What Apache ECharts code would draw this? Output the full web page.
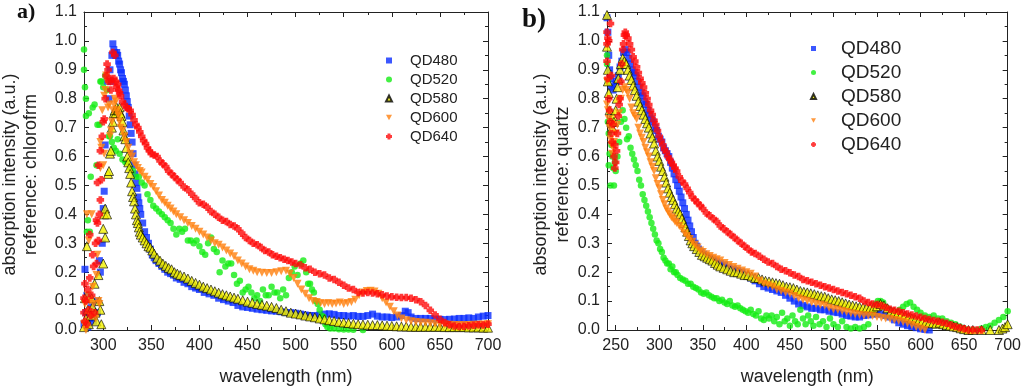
<!DOCTYPE html>
<html>
<head>
<meta charset="utf-8">
<script src="https://cdn.jsdelivr.net/npm/echarts@6/dist/echarts.min.js"></script>
<style>html,body{margin:0;padding:0;background:#fff}#c{width:1024px;height:391px}</style>
</head>
<body>
<div id="c"></div>
<script>
// ---------- tick labels / categories ----------
const seriesNames = ['QD480','QD520','QD580','QD600','QD640'];
const xMajorA = [300,350,400,450,500,550,600,650,700];
const xMinorA = [325,375,425,475,525,575,625,675];
const xMajorB = [250,300,350,400,450,500,550,600,650,700];
const xMinorB = [275,325,375,425,475,525,575,625,675];

// ---------- panel a) reference: chloroform  [wavelength nm, absorption] ----------
const a_QD480 = [[280,0.02],[281,0.21],[282,0.06],[283,0.12],[284,0.01],[286,0.04],[288,0.08],[290,0.03],[292,0.10],[294,0.06],[296,0.24],[297,0.20],[299,0.30],[300,0.42],[301,0.48],[302,0.64],[304,0.86],[306,0.80],[307,0.90],[308,0.86],[309,0.95],[310,0.99],[311,0.97],[312,0.96],[313,0.95],[314,0.96],[315,0.95],[316,0.93],[317,0.92],[318,0.90],[319,0.89],[320,0.87],[321,0.86],[322,0.85],[323,0.83],[324,0.81],[325,0.79],[326,0.77],[327,0.74],[328,0.71],[329,0.68],[330,0.65],[331,0.61],[332,0.57],[333,0.54],[334,0.51],[335,0.49],[336,0.46],[337,0.44],[338,0.42],[339,0.40],[341,0.37],[343,0.34],[345,0.32],[347,0.30],[349,0.28],[351,0.26],[353,0.25],[355,0.24],[358,0.23],[361,0.22],[364,0.21],[367,0.20],[370,0.195],[373,0.19],[376,0.18],[380,0.175],[384,0.165],[388,0.16],[392,0.15],[396,0.145],[400,0.14],[405,0.13],[410,0.125],[415,0.12],[420,0.11],[425,0.105],[430,0.10],[435,0.095],[440,0.085],[445,0.08],[450,0.078],[455,0.075],[460,0.072],[465,0.07],[470,0.068],[475,0.066],[480,0.065],[485,0.063],[490,0.06],[495,0.06],[500,0.058],[505,0.055],[510,0.052],[515,0.05],[520,0.05],[525,0.052],[530,0.055],[535,0.056],[540,0.054],[545,0.05],[550,0.05],[555,0.048],[560,0.05],[565,0.047],[570,0.047],[575,0.05],[580,0.055],[585,0.048],[590,0.045],[595,0.045],[600,0.043],[605,0.045],[610,0.05],[614,0.065],[617,0.06],[620,0.045],[625,0.04],[630,0.04],[635,0.04],[640,0.04],[645,0.038],[650,0.037],[655,0.036],[660,0.037],[665,0.038],[670,0.04],[675,0.04],[680,0.042],[685,0.04],[690,0.045],[695,0.048],[700,0.05]];

const a_QD520 = [[280,0.97],[280,0.90],[281,0.84],[282,0.80],[282,0.74],[283,0.34],[284,0.38],[285,0.75],[286,0.34],[287,0.53],[289,0.77],[291,0.78],[293,0.57],[294,0.71],[296,0.71],[297,0.86],[298,0.86],[300,0.84],[302,0.88],[304,0.83],[306,0.67],[307,0.67],[309,0.65],[311,0.63],[313,0.62],[315,0.66],[317,0.61],[320,0.59],[323,0.58],[325,0.58],[328,0.56],[331,0.55],[334,0.53],[337,0.53],[340,0.51],[343,0.50],[346,0.47],[349,0.45],[352,0.43],[355,0.42],[358,0.41],[361,0.40],[364,0.39],[367,0.38],[370,0.37],[373,0.35],[376,0.33],[379,0.35],[382,0.34],[385,0.35],[388,0.31],[391,0.31],[394,0.30],[397,0.31],[400,0.29],[403,0.27],[406,0.26],[409,0.30],[412,0.32],[415,0.28],[418,0.27],[421,0.20],[424,0.24],[427,0.22],[430,0.23],[433,0.23],[436,0.19],[439,0.16],[442,0.17],[445,0.13],[448,0.14],[451,0.15],[454,0.13],[457,0.11],[460,0.12],[463,0.10],[466,0.14],[469,0.12],[472,0.12],[475,0.15],[478,0.13],[481,0.13],[484,0.11],[487,0.14],[490,0.12],[493,0.18],[496,0.20],[499,0.22],[502,0.19],[505,0.23],[508,0.24],[511,0.20],[513,0.16],[515,0.16],[517,0.14],[519,0.13],[521,0.10],[523,0.09],[525,0.07],[527,0.05],[529,0.045],[531,0.02],[533,0.01],[536,0.005],[540,0.005],[545,0.003],[550,0.002],[555,0.002],[560,0.001],[570,0.0]];

const a_QD580 = [[280,0.01],[281,0.11],[282,0.04],[283,0.29],[284,0.07],[285,0.02],[287,0.05],[288,0.11],[289,0.08],[291,0.16],[292,0.06],[293,0.03],[295,0.19],[296,0.10],[297,0.07],[298,0.02],[300,0.23],[300,0.35],[301,0.40],[302,0.32],[302,0.42],[304,0.40],[305,0.54],[306,0.55],[307,0.61],[308,0.62],[309,0.70],[310,0.72],[311,0.75],[312,0.76],[313,0.75],[314,0.77],[315,0.76],[316,0.76],[317,0.77],[318,0.75],[319,0.74],[320,0.72],[321,0.69],[322,0.67],[323,0.66],[324,0.63],[325,0.60],[326,0.58],[327,0.56],[328,0.54],[329,0.51],[330,0.48],[331,0.46],[332,0.445],[333,0.42],[334,0.40],[335,0.38],[336,0.37],[337,0.355],[338,0.34],[339,0.33],[341,0.32],[343,0.31],[345,0.30],[347,0.29],[349,0.285],[351,0.275],[353,0.264],[356,0.25],[359,0.24],[362,0.23],[365,0.222],[368,0.215],[371,0.21],[374,0.20],[377,0.195],[380,0.19],[384,0.185],[388,0.178],[392,0.17],[396,0.163],[400,0.157],[404,0.15],[408,0.145],[412,0.14],[416,0.134],[420,0.129],[424,0.124],[428,0.12],[432,0.116],[436,0.112],[440,0.108],[445,0.103],[450,0.098],[455,0.094],[460,0.09],[465,0.087],[470,0.084],[475,0.08],[480,0.076],[485,0.07],[490,0.065],[495,0.06],[500,0.057],[505,0.054],[510,0.05],[515,0.047],[520,0.044],[525,0.04],[530,0.037],[535,0.034],[540,0.031],[545,0.028],[550,0.026],[555,0.024],[560,0.022],[565,0.02],[570,0.019],[575,0.018],[580,0.017],[585,0.017],[590,0.016],[595,0.015],[600,0.014],[605,0.013],[610,0.012],[615,0.012],[620,0.011],[625,0.011],[630,0.011],[635,0.011],[640,0.011],[645,0.011],[650,0.011],[655,0.01],[660,0.01],[665,0.01],[670,0.01],[675,0.01],[680,0.009],[685,0.009],[690,0.009],[695,0.008],[700,0.008]];

const a_QD600 = [[280,0.02],[281,0.09],[282,0.0],[283,0.40],[284,0.12],[285,0.31],[286,0.10],[287,0.05],[288,0.40],[289,0.15],[290,0.09],[292,0.04],[293,0.19],[294,0.26],[295,0.10],[296,0.09],[297,0.56],[297,0.65],[298,0.63],[299,0.76],[300,0.57],[301,0.61],[301,0.81],[302,0.83],[303,0.88],[304,0.86],[305,0.77],[306,0.78],[307,0.67],[308,0.69],[309,0.72],[310,0.76],[311,0.78],[312,0.80],[313,0.79],[314,0.76],[315,0.75],[316,0.74],[317,0.72],[318,0.70],[320,0.69],[322,0.67],[324,0.65],[326,0.63],[328,0.61],[330,0.60],[332,0.58],[334,0.57],[336,0.56],[338,0.55],[340,0.545],[343,0.53],[346,0.52],[349,0.505],[352,0.495],[355,0.48],[358,0.465],[361,0.45],[364,0.44],[367,0.43],[370,0.42],[373,0.41],[376,0.40],[380,0.39],[384,0.38],[388,0.37],[392,0.36],[396,0.35],[400,0.34],[404,0.33],[408,0.32],[412,0.31],[416,0.30],[420,0.295],[424,0.285],[428,0.275],[432,0.265],[436,0.255],[440,0.24],[444,0.23],[448,0.22],[452,0.21],[456,0.205],[460,0.20],[465,0.198],[470,0.197],[475,0.197],[480,0.20],[485,0.203],[490,0.205],[494,0.195],[498,0.18],[502,0.16],[506,0.14],[510,0.125],[514,0.11],[518,0.10],[522,0.097],[526,0.093],[530,0.09],[534,0.093],[538,0.09],[542,0.092],[546,0.095],[550,0.09],[554,0.093],[558,0.097],[562,0.105],[566,0.12],[570,0.13],[574,0.135],[578,0.136],[582,0.133],[586,0.125],[590,0.11],[594,0.095],[598,0.08],[602,0.065],[606,0.05],[610,0.04],[615,0.034],[620,0.03],[625,0.028],[630,0.026],[635,0.025],[640,0.023],[645,0.022],[650,0.02],[655,0.019],[660,0.018],[665,0.017],[670,0.017],[675,0.017],[680,0.017],[685,0.018],[690,0.018],[695,0.019],[700,0.02]];

const a_QD640 = [[280,0.06],[280,0.11],[281,0.03],[281,0.16],[282,0.10],[283,0.02],[284,0.14],[285,0.07],[286,0.18],[286,0.33],[287,0.05],[288,0.12],[289,0.26],[290,0.22],[291,0.06],[292,0.30],[293,0.38],[293,0.23],[294,0.37],[294,0.51],[295,0.31],[295,0.57],[296,0.40],[297,0.45],[297,0.62],[298,0.52],[299,0.67],[300,0.72],[301,0.73],[302,0.80],[303,0.88],[304,0.92],[305,0.90],[306,0.86],[307,0.87],[308,0.83],[309,0.86],[310,0.96],[311,0.87],[312,0.95],[313,0.86],[314,0.84],[315,0.85],[316,0.83],[317,0.82],[318,0.81],[320,0.79],[322,0.78],[324,0.77],[326,0.765],[328,0.76],[330,0.745],[332,0.727],[334,0.71],[336,0.70],[338,0.685],[340,0.67],[342,0.655],[344,0.645],[346,0.63],[348,0.62],[350,0.61],[353,0.605],[356,0.60],[359,0.585],[362,0.575],[365,0.565],[368,0.55],[371,0.54],[374,0.53],[377,0.52],[380,0.51],[384,0.495],[388,0.485],[392,0.47],[396,0.455],[400,0.44],[404,0.435],[408,0.425],[412,0.41],[416,0.40],[420,0.39],[424,0.38],[428,0.375],[432,0.365],[436,0.36],[440,0.35],[444,0.335],[448,0.32],[452,0.31],[456,0.30],[460,0.295],[464,0.285],[468,0.275],[472,0.27],[476,0.26],[480,0.255],[484,0.25],[488,0.245],[492,0.24],[496,0.235],[500,0.23],[505,0.225],[510,0.215],[515,0.21],[520,0.20],[525,0.195],[530,0.19],[535,0.18],[540,0.175],[545,0.165],[550,0.155],[555,0.145],[560,0.14],[565,0.13],[570,0.128],[575,0.13],[580,0.128],[585,0.125],[590,0.122],[595,0.118],[600,0.115],[605,0.113],[610,0.112],[615,0.112],[620,0.11],[625,0.105],[630,0.098],[635,0.085],[640,0.068],[645,0.052],[650,0.037],[655,0.026],[660,0.018],[665,0.014],[670,0.012],[675,0.013],[680,0.015],[685,0.016],[690,0.018],[695,0.017],[700,0.02]];

// ---------- panel b) reference: quartz ----------
const b_QD480 = [[240,1.08],[241,1.03],[242,0.95],[243,0.90],[244,0.87],[245,0.84],[247,0.83],[249,0.85],[251,0.86],[253,0.88],[255,0.91],[257,0.93],[259,0.96],[261,0.97],[263,0.96],[265,0.94],[267,0.92],[269,0.90],[271,0.89],[273,0.88],[275,0.86],[277,0.84],[279,0.82],[281,0.81],[283,0.79],[285,0.78],[287,0.76],[289,0.745],[291,0.73],[293,0.72],[295,0.70],[297,0.69],[299,0.67],[301,0.66],[303,0.65],[305,0.63],[307,0.62],[309,0.61],[311,0.60],[313,0.58],[315,0.56],[317,0.54],[319,0.52],[321,0.50],[323,0.48],[325,0.46],[327,0.44],[329,0.42],[331,0.40],[333,0.38],[335,0.36],[337,0.34],[339,0.32],[341,0.30],[343,0.29],[345,0.28],[348,0.27],[351,0.262],[354,0.255],[358,0.248],[362,0.242],[366,0.236],[370,0.23],[375,0.225],[380,0.215],[385,0.21],[390,0.205],[395,0.20],[400,0.19],[405,0.18],[410,0.17],[415,0.16],[420,0.15],[425,0.145],[430,0.14],[435,0.135],[440,0.13],[445,0.12],[450,0.11],[455,0.10],[460,0.09],[465,0.085],[470,0.08],[475,0.075],[480,0.075],[485,0.07],[490,0.07],[495,0.065],[500,0.062],[505,0.06],[510,0.055],[515,0.05],[520,0.048],[525,0.045],[530,0.045],[535,0.05],[540,0.052],[545,0.055],[550,0.056],[555,0.055],[560,0.05],[565,0.045],[570,0.035],[575,0.025],[580,0.02],[585,0.015],[590,0.012],[595,0.008],[600,0.004],[605,0.002],[610,0.0]];

const b_QD520 = [[240,0.95],[240,0.92],[241,0.86],[241,0.72],[242,0.68],[242,0.57],[243,0.61],[244,0.50],[245,0.64],[246,0.60],[247,0.56],[248,0.50],[249,0.58],[250,0.55],[252,0.60],[254,0.65],[256,0.72],[258,0.76],[260,0.73],[262,0.70],[263,0.66],[265,0.67],[267,0.63],[269,0.61],[271,0.59],[273,0.57],[275,0.55],[277,0.52],[279,0.50],[281,0.47],[283,0.45],[285,0.43],[287,0.41],[289,0.39],[291,0.37],[293,0.35],[295,0.33],[297,0.31],[299,0.30],[301,0.28],[303,0.27],[305,0.25],[307,0.24],[309,0.23],[311,0.23],[313,0.21],[315,0.22],[317,0.20],[319,0.20],[321,0.19],[324,0.18],[327,0.175],[330,0.17],[333,0.16],[336,0.16],[339,0.15],[342,0.145],[345,0.14],[348,0.13],[351,0.125],[354,0.13],[357,0.12],[360,0.115],[363,0.11],[366,0.11],[369,0.10],[372,0.105],[375,0.095],[378,0.09],[381,0.10],[384,0.085],[387,0.08],[390,0.085],[393,0.075],[396,0.07],[399,0.065],[402,0.06],[405,0.07],[408,0.055],[411,0.05],[414,0.065],[417,0.04],[420,0.035],[423,0.05],[426,0.04],[429,0.05],[432,0.03],[435,0.045],[438,0.02],[441,0.06],[444,0.03],[447,0.04],[450,0.015],[453,0.05],[456,0.03],[459,0.02],[462,0.07],[465,0.04],[468,0.02],[471,0.05],[474,0.03],[477,0.015],[480,0.045],[484,0.02],[488,0.03],[492,0.01],[496,0.04],[500,0.02],[505,0.01],[510,0.03],[515,0.01],[520,0.005],[525,0.01],[530,0.005],[535,0.01],[540,0.02],[545,0.06],[548,0.09],[551,0.10],[554,0.10],[557,0.095],[560,0.08],[564,0.07],[568,0.065],[572,0.06],[576,0.07],[580,0.08],[584,0.09],[588,0.095],[592,0.08],[596,0.07],[600,0.06],[605,0.05],[610,0.045],[615,0.05],[620,0.04],[625,0.04],[630,0.03],[635,0.025],[640,0.02],[645,0.012],[650,0.005],[655,0.0],[660,0.0],[665,0.0],[670,0.005],[675,0.01],[680,0.015],[685,0.025],[690,0.035],[695,0.045],[700,0.065]];

const b_QD580 = [[240,1.09],[240,0.98],[241,0.90],[241,0.86],[242,0.82],[243,0.76],[244,0.73],[245,0.72],[246,0.70],[247,0.74],[248,0.72],[250,0.76],[251,0.80],[252,0.84],[253,0.87],[255,0.90],[256,0.92],[258,0.94],[260,0.93],[262,0.92],[264,0.90],[266,0.88],[268,0.865],[270,0.845],[272,0.83],[274,0.81],[276,0.79],[278,0.775],[280,0.76],[282,0.745],[284,0.73],[286,0.715],[288,0.70],[290,0.68],[292,0.665],[294,0.645],[296,0.62],[298,0.60],[300,0.585],[302,0.565],[304,0.55],[306,0.53],[308,0.51],[310,0.49],[312,0.475],[314,0.46],[316,0.45],[318,0.435],[320,0.42],[322,0.41],[324,0.40],[326,0.385],[328,0.37],[330,0.355],[332,0.34],[334,0.325],[336,0.31],[338,0.30],[340,0.29],[343,0.28],[346,0.27],[349,0.26],[352,0.255],[355,0.25],[358,0.245],[361,0.24],[364,0.232],[367,0.226],[370,0.22],[374,0.215],[378,0.21],[382,0.205],[386,0.20],[390,0.20],[394,0.195],[398,0.19],[402,0.19],[406,0.185],[410,0.18],[414,0.18],[418,0.175],[422,0.17],[426,0.168],[430,0.165],[434,0.162],[438,0.16],[442,0.155],[446,0.15],[450,0.148],[454,0.145],[458,0.14],[462,0.135],[466,0.132],[470,0.13],[474,0.127],[478,0.124],[482,0.12],[486,0.117],[490,0.115],[494,0.11],[498,0.106],[502,0.103],[506,0.10],[510,0.096],[514,0.092],[518,0.088],[522,0.085],[526,0.082],[530,0.08],[534,0.078],[538,0.077],[542,0.076],[546,0.077],[550,0.082],[554,0.09],[558,0.085],[562,0.075],[566,0.065],[570,0.062],[574,0.058],[578,0.055],[582,0.05],[586,0.045],[590,0.04],[594,0.036],[598,0.032],[602,0.03],[606,0.027],[610,0.025],[614,0.023],[618,0.022],[622,0.025],[626,0.02],[630,0.017],[634,0.015],[638,0.012],[642,0.01],[646,0.006],[650,0.003],[655,0.0],[660,0.0],[670,0.0],[680,0.0],[690,0.0],[694,0.005],[697,0.01],[700,0.02]];

const b_QD600 = [[240,0.86],[240,0.78],[241,0.76],[242,0.73],[243,0.70],[244,0.66],[245,0.64],[246,0.61],[247,0.63],[248,0.65],[250,0.68],[252,0.71],[254,0.75],[256,0.80],[258,0.83],[260,0.84],[262,0.83],[264,0.82],[266,0.80],[268,0.77],[270,0.75],[272,0.74],[274,0.73],[276,0.70],[278,0.68],[280,0.665],[282,0.65],[284,0.63],[286,0.615],[288,0.60],[290,0.58],[292,0.565],[294,0.55],[296,0.525],[298,0.505],[300,0.49],[302,0.47],[304,0.45],[306,0.435],[308,0.42],[310,0.41],[312,0.40],[314,0.39],[316,0.385],[318,0.375],[320,0.37],[323,0.36],[326,0.35],[329,0.335],[332,0.325],[335,0.315],[338,0.305],[341,0.295],[344,0.285],[347,0.275],[350,0.27],[354,0.262],[358,0.256],[362,0.25],[366,0.245],[370,0.24],[375,0.232],[380,0.225],[385,0.218],[390,0.212],[395,0.206],[400,0.20],[405,0.195],[410,0.185],[415,0.17],[420,0.16],[425,0.155],[430,0.15],[435,0.14],[440,0.135],[445,0.13],[450,0.125],[455,0.118],[460,0.11],[465,0.105],[470,0.10],[475,0.095],[480,0.09],[485,0.087],[490,0.085],[495,0.077],[500,0.072],[505,0.07],[510,0.066],[515,0.062],[520,0.058],[525,0.055],[530,0.053],[535,0.05],[540,0.05],[545,0.048],[550,0.045],[555,0.042],[560,0.04],[565,0.038],[570,0.035],[575,0.032],[580,0.028],[585,0.023],[590,0.017],[595,0.01],[600,0.005],[605,0.0]];

const b_QD640 = [[240,1.03],[240,0.99],[240,0.93],[241,1.01],[241,0.87],[242,1.00],[242,0.80],[243,0.76],[244,1.06],[244,0.72],[245,0.68],[245,0.88],[246,0.65],[247,0.71],[248,0.60],[249,0.64],[249,0.56],[250,0.58],[251,0.62],[252,0.68],[253,0.74],[254,0.78],[255,0.80],[256,0.86],[257,0.92],[258,0.97],[259,0.99],[260,1.02],[261,1.03],[262,1.02],[264,1.01],[266,0.99],[268,0.97],[270,0.945],[272,0.93],[274,0.91],[276,0.89],[278,0.87],[280,0.855],[282,0.84],[284,0.82],[286,0.80],[288,0.78],[290,0.76],[292,0.745],[294,0.725],[296,0.71],[298,0.69],[300,0.67],[302,0.655],[304,0.64],[306,0.625],[308,0.615],[310,0.60],[312,0.59],[314,0.58],[316,0.57],[318,0.56],[320,0.55],[323,0.53],[326,0.515],[329,0.505],[332,0.49],[335,0.475],[338,0.46],[341,0.45],[344,0.44],[347,0.43],[350,0.42],[354,0.405],[358,0.395],[362,0.385],[366,0.375],[370,0.36],[374,0.35],[378,0.34],[382,0.33],[386,0.32],[390,0.31],[394,0.30],[398,0.29],[402,0.28],[406,0.27],[410,0.265],[415,0.255],[420,0.245],[425,0.235],[430,0.23],[435,0.22],[440,0.21],[445,0.205],[450,0.198],[455,0.19],[460,0.185],[465,0.175],[470,0.17],[475,0.165],[480,0.16],[485,0.155],[490,0.15],[495,0.145],[500,0.14],[505,0.135],[510,0.13],[515,0.125],[520,0.12],[525,0.115],[530,0.11],[535,0.10],[540,0.095],[545,0.09],[550,0.088],[555,0.085],[560,0.078],[565,0.072],[570,0.068],[575,0.065],[580,0.06],[585,0.055],[590,0.052],[595,0.048],[600,0.044],[605,0.04],[610,0.036],[615,0.033],[620,0.03],[625,0.027],[630,0.023],[635,0.017],[640,0.012],[645,0.008],[650,0.004],[655,0.0],[660,0.0],[665,0.0],[670,0.0]];

// ---------- styling ----------
const INK = '#222';
const FONT = '"Liberation Sans", Arial, Helvetica, sans-serif';
const styles = {
  QD480: {symbol:'rect', symbolSize:7, itemStyle:{color:'#0a2dff'}},
  QD520: {symbol:'circle', symbolSize:6.5, itemStyle:{color:'#14ec14'}},
  QD580: {symbol:'triangle', symbolSize:9, itemStyle:{color:'#f2f000', borderColor:'#000', borderWidth:0.8}},
  QD600: {symbol:'path://M0,0L2,0L1,1.8Z', symbolSize:8, itemStyle:{color:'#ff7f0e'}},
  QD640: {symbol:'path://M1,0h2v1h1v2h-1v1h-2v-1h-1v-2h1z', symbolSize:7.5, itemStyle:{color:'#ff0a0a'}}
};

function xAxes(grid, min, major, minor){
  const base = {type:'value', gridIndex:grid, min:min, max:700, splitLine:{show:false}};
  const line = {show:true, onZero:false, lineStyle:{color:INK, width:1}};
  return [
    Object.assign({}, base, {position:'bottom', axisLine:line,
      axisTick:{inside:true, length:5, customValues:major, lineStyle:{color:INK}},
      axisLabel:{customValues:major, fontSize:16, color:INK, margin:8, fontFamily:FONT},
      name:'wavelength (nm)', nameLocation:'middle', nameGap:38,
      nameTextStyle:{fontSize:18, color:INK, fontFamily:FONT}}),
    Object.assign({}, base, {position:'bottom', axisLine:{show:false, onZero:false},
      axisTick:{inside:true, length:3, customValues:minor, lineStyle:{color:INK}}, axisLabel:{show:false}}),
    Object.assign({}, base, {position:'top', axisLine:line,
      axisTick:{inside:true, length:5, customValues:major, lineStyle:{color:INK}}, axisLabel:{show:false}}),
    Object.assign({}, base, {position:'top', axisLine:{show:false, onZero:false},
      axisTick:{inside:true, length:3, customValues:minor, lineStyle:{color:INK}}, axisLabel:{show:false}})
  ];
}
function yAxes(grid){
  const base = {type:'value', gridIndex:grid, min:0, max:1.1, interval:0.1, splitLine:{show:false},
    axisLine:{show:true, onZero:false, lineStyle:{color:INK, width:1}},
    axisTick:{inside:true, length:5, lineStyle:{color:INK}},
    minorTick:{show:true, splitNumber:2, length:3, lineStyle:{color:INK}}};
  return [
    Object.assign({}, base, {position:'left',
      axisLabel:{fontSize:16, color:INK, margin:7, fontFamily:FONT, formatter:v => v.toFixed(1)}}),
    Object.assign({}, base, {position:'right', axisLabel:{show:false}})
  ];
}

const panels = [
  {data:[a_QD480,a_QD520,a_QD580,a_QD600,a_QD640], x:0, y:0},
  {data:[b_QD480,b_QD520,b_QD580,b_QD600,b_QD640], x:4, y:2}
];
const series = [];
panels.forEach(p => {
  seriesNames.forEach((n, i) => {
    series.push(Object.assign({type:'scatter', name:n, data:p.data[i], xAxisIndex:p.x, yAxisIndex:p.y}, styles[n]));
  });
});

const yTitle = (x, txt) => ({type:'text', x:x, y:174.5, rotation:Math.PI/2,
  style:{text:txt, fontSize:18, fill:INK, fontFamily:FONT, textAlign:'center', textVerticalAlign:'middle'}});

const option = {
  animation:false,
  backgroundColor:'#fff',
  textStyle:{fontFamily:FONT},
  grid:[
    {left:84, top:12, width:404, height:325},
    {left:607, top:12, width:404, height:325}
  ],
  xAxis: xAxes(0, 280, xMajorA, xMinorA).concat(xAxes(1, 240, xMajorB, xMinorB)),
  yAxis: yAxes(0).concat(yAxes(1)),
  legend:[
    {data:seriesNames, orient:'vertical', left:380, top:48, itemWidth:6, itemHeight:6, itemGap:4,
      selectedMode:false, textStyle:{fontSize:15, color:INK, fontFamily:FONT, padding:[0,0,0,13]}},
    {data:seriesNames, orient:'vertical', left:805, top:34, itemWidth:5, itemHeight:5, itemGap:5,
      selectedMode:false, textStyle:{fontSize:19, color:INK, fontFamily:FONT, padding:[0,0,0,20]}}
  ],
  graphic:[
    yTitle(10, 'absorption intensity (a.u.)'),
    yTitle(31, 'reference: chlorofrm'),
    yTitle(541, 'absorption intensity (a.u.)'),
    yTitle(563, 'reference: quartz'),
    {type:'text', x:17, y:12, style:{text:'a)', fontSize:22, fontWeight:'bold', fill:'#111',
      fontFamily:'"Liberation Serif", "Times New Roman", serif', textVerticalAlign:'middle'}},
    {type:'text', x:522, y:20, style:{text:'b)', fontSize:27, fontWeight:'bold', fill:'#111',
      fontFamily:'"Liberation Serif", "Times New Roman", serif', textVerticalAlign:'middle'}}
  ],
  series: series
};
const chart = echarts.init(document.getElementById('c'), null, {renderer:'canvas'});
chart.setOption(option);
</script>
</body>
</html>
